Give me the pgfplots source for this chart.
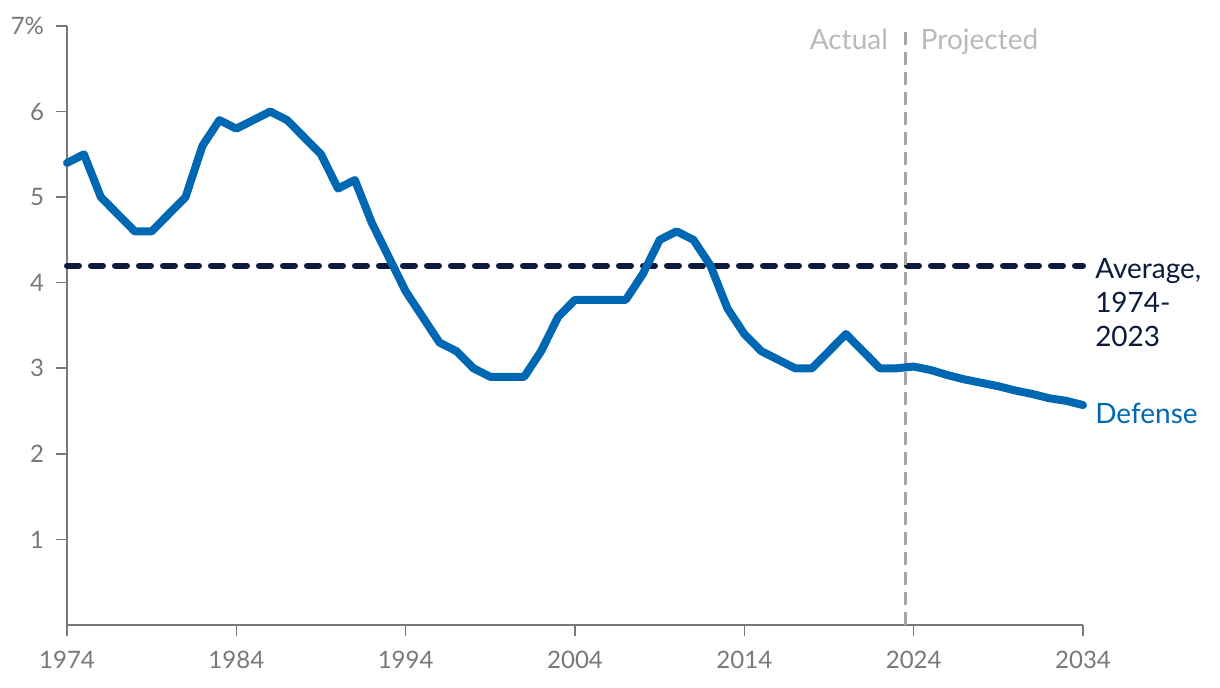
\documentclass[border=0pt]{standalone}
\usepackage{fontspec}
\setmainfont{Lato}
\usepackage{pgfplots}
\pgfplotsset{compat=1.18}
\definecolor{defblue}{RGB}{0,104,178}
\definecolor{navy}{RGB}{12,26,61}
\definecolor{axgray}{RGB}{120,120,120}
\definecolor{divgray}{RGB}{166,166,166}
\definecolor{txtgray}{RGB}{185,185,185}
\begin{document}
\begin{tikzpicture}
\begin{axis}[
  scale only axis,
  width=508pt, height=299.5pt,
  xmin=1974, xmax=2034, ymin=0, ymax=7,
  axis x line*=bottom, axis y line*=left,
  axis line style={axgray, line width=1pt},
  xtick={1974,1984,1994,2004,2014,2024,2034},
  xticklabels={1974,1984,1994,2004,2014,2024,2034},
  ytick={1,2,3,4,5,6,7},
  yticklabels={1,2,3,4,5,6,7\%},
  tick align=outside,
  major tick length=5.5pt,
  tick style={axgray, line width=0.8pt},
  tick label style={font=\fontsize{12}{14}\selectfont, text=axgray},
  xticklabel style={yshift=-4pt},
  yticklabel style={xshift=-2.5pt},
  /pgf/number format/assume math mode=true,
  clip=false,
]
% Average line
\addplot[navy, line width=3pt, line cap=round, dash pattern=on 6pt off 6pt] coordinates {(1974,4.2) (2034,4.2)};
% Actual / projected divider
\addplot[divgray, line width=1.5pt, dash pattern=on 6.5pt off 3.5pt] coordinates {(2023.5,0) (2023.5,7)};
% Defense
\addplot[defblue, line width=4pt, line join=round, line cap=round] coordinates {
(1974,5.4) (1975,5.5) (1976,5.0) (1977,4.8) (1978,4.6) (1979,4.6) (1980,4.8)
(1981,5.0) (1982,5.6) (1983,5.9) (1984,5.8) (1985,5.9) (1986,6.0) (1987,5.9)
(1988,5.7) (1989,5.5) (1990,5.1) (1991,5.2) (1992,4.7) (1993,4.3) (1994,3.9)
(1995,3.6) (1996,3.3) (1997,3.2) (1998,3.0) (1999,2.9) (2000,2.9) (2001,2.9)
(2002,3.2) (2003,3.6) (2004,3.8) (2005,3.8) (2006,3.8) (2007,3.8) (2008,4.1)
(2009,4.5) (2010,4.6) (2011,4.5) (2012,4.2) (2013,3.7) (2014,3.4) (2015,3.2)
(2016,3.1) (2017,3.0) (2018,3.0) (2019,3.2) (2020,3.4) (2021,3.2) (2022,3.0)
(2023,3.0) (2024,3.02) (2025,2.98) (2026,2.92) (2027,2.87) (2028,2.83)
(2029,2.79) (2030,2.74) (2031,2.70) (2032,2.65) (2033,2.62) (2034,2.57)
};
\node[anchor=base east, text=txtgray, font=\fontsize{14}{17}\selectfont, inner sep=0pt] at (axis cs:2022.5,6.72) {Actual};
\node[anchor=base west, text=txtgray, font=\fontsize{14}{17}\selectfont, inner sep=0pt] at (axis cs:2024.4,6.72) {Projected};
\node[anchor=north west, align=left, text=navy, font=\fontsize{14}{17}\selectfont, inner sep=0pt] at (axis cs:2034.7,4.29) {Average,\\1974-\\2023};
\node[anchor=west, text=defblue, font=\fontsize{14}{17}\selectfont, inner sep=0pt] at (axis cs:2034.7,2.47) {Defense};
\end{axis}
\pgfresetboundingbox
\path[use as bounding box] (-33.5pt,-31.5pt) rectangle (576.5pt,312.5pt);
\end{tikzpicture}
\end{document}
